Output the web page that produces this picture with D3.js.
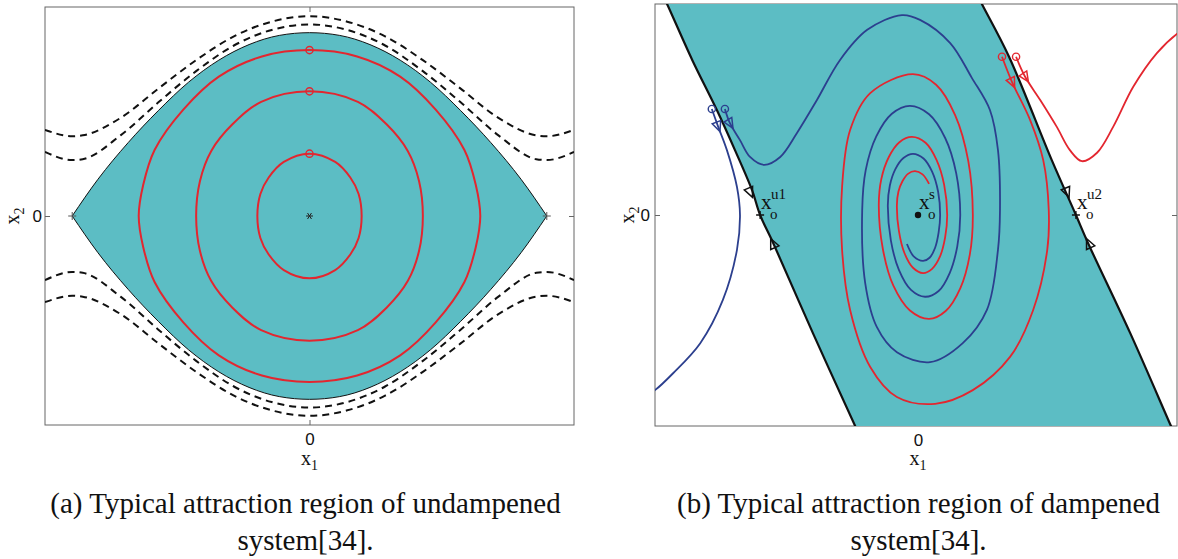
<!DOCTYPE html>
<html>
<head>
<meta charset="utf-8">
<script src="https://cdn.jsdelivr.net/npm/d3@7"></script>
<style>
  html, body { margin: 0; padding: 0; background: #fff; }
  svg { display: block; font-family: "Liberation Serif", "Times New Roman", serif; }
</style>
</head>
<body>
<div id="chart"></div>
<script>
// ---------- panel (a): undamped system (x1 in rad, x2 velocity) ----------
const sepX     = [-3.14, -2.8, -2.4, -2.0, -1.6, -1.2, -0.8, -0.4, 0, 0.4, 0.8, 1.2, 1.6, 2.0, 2.4, 2.8, 3.14];
const sepUpper = [0, 0.40, 0.80, 1.15, 1.46, 1.70, 1.87, 1.97, 2.0, 1.97, 1.87, 1.70, 1.46, 1.15, 0.80, 0.40, 0];
const sepLower = [0, -0.40, -0.80, -1.15, -1.46, -1.70, -1.87, -1.97, -2.0, -1.97, -1.87, -1.70, -1.46, -1.15, -0.80, -0.40, 0];

const dashX       = [-3.5, -3.14, -3, -2.5, -2, -1.5, -1, -0.5, 0, 0.5, 1, 1.5, 2, 2.5, 3, 3.14, 3.5];
const dashUpOuter = [0.94, 0.87, 0.88, 1.07, 1.39, 1.70, 1.96, 2.12, 2.18, 2.12, 1.96, 1.70, 1.39, 1.07, 0.88, 0.87, 0.94];
const dashUpInner = [0.70, 0.61, 0.62, 0.88, 1.24, 1.58, 1.86, 2.03, 2.09, 2.03, 1.86, 1.58, 1.24, 0.88, 0.62, 0.61, 0.70];
const dashLoInner = [-0.70, -0.61, -0.62, -0.88, -1.24, -1.58, -1.86, -2.03, -2.09, -2.03, -1.86, -1.58, -1.24, -0.88, -0.62, -0.61, -0.70];
const dashLoOuter = [-0.94, -0.87, -0.88, -1.07, -1.39, -1.70, -1.96, -2.12, -2.18, -2.12, -1.96, -1.70, -1.39, -1.07, -0.88, -0.87, -0.94];

const orbitInner = [[0,0.68],[0.34,0.59],[0.54,0.42],[0.65,0.24],[0.69,0],[0.65,-0.24],[0.54,-0.42],[0.34,-0.59],
  [0,-0.68],[-0.34,-0.59],[-0.54,-0.42],[-0.65,-0.24],[-0.69,0],[-0.65,0.24],[-0.54,0.42],[-0.34,0.59]];
const orbitMid = [[0,1.36],[0.64,1.245],[1.02,1.0],[1.30,0.71],[1.45,0.38],[1.50,0],[1.45,-0.38],[1.30,-0.71],
  [1.02,-1.0],[0.64,-1.245],[0,-1.36],[-0.64,-1.245],[-1.02,-1.0],[-1.30,-0.71],[-1.45,-0.38],[-1.50,0],
  [-1.45,0.38],[-1.30,0.71],[-1.02,1.0],[-0.64,1.245]];
const orbitOuter = [[0,1.81],[0.63,1.74],[1.20,1.52],[1.67,1.16],[2.05,0.72],[2.20,0.34],[2.26,0],[2.20,-0.34],
  [2.05,-0.72],[1.67,-1.16],[1.20,-1.52],[0.63,-1.74],[0,-1.81],[-0.63,-1.74],[-1.20,-1.52],[-1.67,-1.16],
  [-2.05,-0.72],[-2.20,-0.34],[-2.26,0],[-2.20,0.34],[-2.05,0.72],[-1.67,1.16],[-1.20,1.52],[-0.63,1.74]];
const orbitStarts = [[0,0.68],[0,1.36],[0,1.81]];
const saddlesA = [[-3.14,0],[3.14,0]];

// ---------- panel (b): dampened system ----------
const bndLeft  = [[-5.14,4.30],[-4.99,4.00],[-4.49,2.94],[-4.00,1.99],[-3.64,1.23],[-3.30,0.47],[-3.14,0],
  [-2.88,-0.53],[-2.09,-2.24],[-1.25,-4.00],[-1.11,-4.30]];
const bndRight = [[1.11,4.30],[1.27,4.00],[1.81,3.00],[2.66,1.04],[3.14,0],[3.38,-0.53],[4.22,-2.24],
  [5.03,-4.00],[5.17,-4.30]];

const redIn = [[1.67,3.00],[1.87,2.52],[2.23,1.80],[2.49,1.04],[2.60,0.09],[2.57,-0.66],[2.29,-1.80],[1.83,-2.69],
  [1.09,-3.32],[0.34,-3.58],[-0.42,-3.45],[-0.95,-2.88],[-1.35,-1.80],[-1.51,-0.66],[-1.51,0.53],[-1.35,1.61],
  [-0.95,2.31],[-0.10,2.67],[0.36,2.47],[0.74,1.89],[1.00,1.02],[1.09,0],[1.03,-0.75],[0.84,-1.39],
  [0.55,-1.82],[0.22,-1.97],[-0.16,-1.81],[-0.49,-1.34],[-0.70,-0.64],[-0.78,0.19],[-0.73,0.68],[-0.58,1.10],
  [-0.37,1.38],[-0.12,1.48],[0.15,1.37],[0.37,1.04],[0.52,0.57],[0.58,0],[0.54,-0.42],[0.44,-0.78],
  [0.28,-1.02],[0.10,-1.10],[-0.10,-1.00],[-0.27,-0.72],[-0.38,-0.30],[-0.42,0.19],[-0.39,0.44],[-0.31,0.64],
  [-0.20,0.78],[-0.06,0.83],[0.09,0.77],[0.22,0.59]];
const blueIn = [[-3.84,2.01],[-3.74,1.74],[-3.54,1.42],[-3.34,1.10],[-3.06,0.95],[-2.74,1.10],[-2.41,1.55],
  [-2.01,2.18],[-1.55,2.94],[-1.01,3.51],[-0.32,3.79],[0.04,3.70],[0.64,3.26],[1.07,2.60],[1.43,1.99],
  [1.59,1.23],[1.63,0.09],[1.59,-0.66],[1.37,-1.80],[0.89,-2.43],[0.24,-2.79],[-0.42,-2.60],[-0.82,-2.12],
  [-1.05,-1.29],[-1.11,0.09],[-1.04,0.85],[-0.83,1.49],[-0.52,1.92],[-0.16,2.07],[0.22,1.91],[0.54,1.46],
  [0.76,0.79],[0.84,0],[0.78,-0.60],[0.63,-1.10],[0.41,-1.44],[0.14,-1.55],[-0.14,-1.42],[-0.38,-1.04],
  [-0.54,-0.48],[-0.60,0.19],[-0.56,0.56],[-0.45,0.87],[-0.29,1.08],[-0.10,1.16],[0.11,1.07],[0.28,0.82],
  [0.40,0.44],[0.44,0],[0.41,-0.33],[0.34,-0.62],[0.23,-0.81],[0.10,-0.87],[-0.08,-0.79],[-0.22,-0.55]];
const redOut = [[1.95,3.00],[2.13,2.62],[2.43,2.18],[2.76,1.67],[3.02,1.23],[3.26,1.02],[3.56,1.18],
  [3.88,1.67],[4.28,2.43],[4.75,3.07],[5.17,3.45],[5.41,3.58]];
const blueOut = [[-4.10,2.01],[-3.98,1.69],[-3.80,1.23],[-3.60,0.53],[-3.54,0],[-3.60,-0.66],[-3.88,-1.61],
  [-4.33,-2.43],[-4.87,-3.00],[-5.23,-3.32],[-5.43,-3.43]];
const bndArrows = [[-3.34,0.44],[-2.88,-0.55],[2.96,0.44],[3.40,-0.55]];
const saddlesB = [[-3.14,0],[3.14,0]];
const stableB = [0,0];
const eqLabels = [{p:[-3.14,0], sup:"u1"}, {p:[0,0], sup:"s"}, {p:[3.14,0], sup:"u2"}];

const captionA = ["(a) Typical attraction region of undampened", "system[34]."];
const captionB = ["(b) Typical attraction region of dampened", "system[34]."];

// ---------- drawing ----------
const W = 1178, H = 559;
const teal = "#5cbdc4", red = "#e3262f", blue = "#2c3f8e", axisCol = "#666";

const svg = d3.select("#chart").append("svg").attr("width", W).attr("height", H);
svg.append("rect").attr("width", W).attr("height", H).attr("fill", "#fff");

function drawAxes(g, x, y, box, pads) {
  const mk = (ax) => ax.tickValues([0]).tickSizeInner(-5).tickSizeOuter(0);
  const parts = [
    [d3.axisBottom, x, `translate(0,${box.y1})`, d3.format("d"), pads.bottom],
    [d3.axisTop, x, `translate(0,${box.y0})`, () => "", 3],
    [d3.axisLeft, y, `translate(${box.x0},0)`, d3.format("d"), pads.left],
    [d3.axisRight, y, `translate(${box.x1},0)`, () => "", 3]
  ];
  parts.forEach(([fn, sc, tr, fmt, pad]) => {
    const a = g.append("g").attr("transform", tr)
      .call(mk(fn(sc)).tickFormat(fmt).tickPadding(pad));
    a.select(".domain").remove();
    a.selectAll("line").attr("stroke", axisCol);
    a.selectAll("text").attr("font-family", null).attr("font-size", 17).attr("fill", "#111");
  });
  g.append("rect").attr("x", box.x0).attr("y", box.y0)
    .attr("width", box.x1 - box.x0).attr("height", box.y1 - box.y0)
    .attr("fill", "none").attr("stroke", axisCol).attr("stroke-width", 1);
}

function axisLabel(g, x, y, sub, rotate) {
  const t = g.append("text").attr("text-anchor", "middle").attr("font-size", 20).attr("fill", "#111")
    .attr("transform", `translate(${x},${y})` + (rotate ? " rotate(-90)" : ""));
  t.append("tspan").text("x");
  t.append("tspan").attr("font-size", 14).attr("dy", 5).text(sub);
}

function triangle(g, px, py, ang, color) {
  g.append("path").attr("d", "M6,0L-4,-4.5L-4,4.5Z")
    .attr("transform", `translate(${px},${py}) rotate(${ang * 180 / Math.PI})`)
    .attr("fill", "none").attr("stroke", color).attr("stroke-width", 1.5);
}

// ----- panel (a) -----
const boxA = {x0: 45, x1: 574, y0: 7, y1: 425};
const xA = d3.scaleLinear().domain([-3.5, 3.5]).range([boxA.x0, boxA.x1]);
const yA = d3.scaleLinear().domain([-2.28, 2.28]).range([boxA.y1, boxA.y0]);
const gA = svg.append("g");
drawAxes(gA, xA, yA, boxA, {bottom: 8, left: 3});

gA.append("clipPath").attr("id", "clipA").append("rect")
  .attr("x", boxA.x0).attr("y", boxA.y0).attr("width", boxA.x1 - boxA.x0).attr("height", boxA.y1 - boxA.y0);
const pA = gA.append("g").attr("clip-path", "url(#clipA)");

const sepArea = d3.area().curve(d3.curveMonotoneX)
  .x((d, i) => xA(sepX[i])).y0((d, i) => yA(sepLower[i])).y1((d, i) => yA(sepUpper[i]));
pA.append("path").attr("d", sepArea(sepX)).attr("fill", teal).attr("stroke", "#111").attr("stroke-width", 1);

const dashLine = d3.line().curve(d3.curveMonotoneX).x((d, i) => xA(dashX[i])).y(d => yA(d));
[dashUpOuter, dashUpInner, dashLoInner, dashLoOuter].forEach(s => {
  pA.append("path").attr("d", dashLine(s)).attr("fill", "none").attr("stroke", "#111")
    .attr("stroke-width", 2).attr("stroke-dasharray", "7,5");
});

const loop = d3.line().curve(d3.curveCatmullRomClosed.alpha(0.5)).x(d => xA(d[0])).y(d => yA(d[1]));
[orbitInner, orbitMid, orbitOuter].forEach(o => {
  pA.append("path").attr("d", loop(o)).attr("fill", "none").attr("stroke", red).attr("stroke-width", 2);
});
pA.selectAll("circle.start").data(orbitStarts).join("circle")
  .attr("cx", d => xA(d[0])).attr("cy", d => yA(d[1])).attr("r", 3.6)
  .attr("fill", "none").attr("stroke", red).attr("stroke-width", 1.4);

saddlesA.forEach(d => {
  const cx = xA(d[0]), cy = yA(d[1]);
  pA.append("path").attr("d", `M${cx - 4},${cy}H${cx + 4}M${cx},${cy - 4}V${cy + 4}`)
    .attr("stroke", "#555").attr("stroke-width", 1);
});
{
  const cx = xA(0), cy = yA(0);
  pA.append("path").attr("d", `M${cx - 3.5},${cy}H${cx + 3.5}M${cx - 2},${cy - 3}L${cx + 2},${cy + 3}M${cx - 2},${cy + 3}L${cx + 2},${cy - 3}`)
    .attr("stroke", "#222").attr("stroke-width", 1);
}
axisLabel(gA, xA(0), 465, "1", false);
axisLabel(gA, 19, yA(0), "2", true);

// ----- panel (b) -----
const boxB = {x0: 655, x1: 1177, y0: 4, y1: 426};
const xB = d3.scaleLinear().domain([-5.23, 5.15]).range([boxB.x0, boxB.x1]);
const yB = d3.scaleLinear().domain([-4, 4]).range([boxB.y1, boxB.y0]);
const gB = svg.append("g");
drawAxes(gB, xB, yB, boxB, {bottom: 8, left: 5});

gB.append("clipPath").attr("id", "clipB").append("rect")
  .attr("x", boxB.x0).attr("y", boxB.y0).attr("width", boxB.x1 - boxB.x0).attr("height", boxB.y1 - boxB.y0);
const pB = gB.append("g").attr("clip-path", "url(#clipB)");

const lineB = d3.line().curve(d3.curveCatmullRom.alpha(0.5)).x(d => xB(d[0])).y(d => yB(d[1]));
const bandPath = lineB(bndLeft) + lineB(bndRight.slice().reverse()).replace(/^M/, "L") + "Z";
pB.append("path").attr("d", bandPath).attr("fill", teal);
[bndLeft, bndRight].forEach(b => {
  pB.append("path").attr("d", lineB(b)).attr("fill", "none").attr("stroke", "#111").attr("stroke-width", 2.2);
});

[[redIn, red], [blueIn, blue], [redOut, red], [blueOut, blue]].forEach(([tr, col]) => {
  pB.append("path").attr("d", lineB(tr)).attr("fill", "none").attr("stroke", col).attr("stroke-width", 1.8);
  pB.append("circle").attr("cx", xB(tr[0][0])).attr("cy", yB(tr[0][1])).attr("r", 3.6)
    .attr("fill", "none").attr("stroke", col).attr("stroke-width", 1.4);
  const a = tr[1], b = tr[2];
  const ang = Math.atan2(yB(b[1]) - yB(a[1]), xB(b[0]) - xB(a[0]));
  triangle(pB, xB(a[0]), yB(a[1]), ang, col);
});

// arrows on the boundary point along the flow, towards the saddle
bndArrows.forEach(d => {
  const s = d[0] < 0 ? saddlesB[0] : saddlesB[1];
  const ang = Math.atan2(yB(s[1]) - yB(d[1]), xB(s[0]) - xB(d[0]));
  triangle(pB, xB(d[0]), yB(d[1]), ang, "#111");
});

saddlesB.forEach(d => {
  const cx = xB(d[0]), cy = yB(d[1]);
  pB.append("path").attr("d", `M${cx - 4},${cy}H${cx + 4}M${cx},${cy - 4}V${cy + 4}`)
    .attr("stroke", "#111").attr("stroke-width", 1.3);
});
pB.append("circle").attr("cx", xB(stableB[0])).attr("cy", yB(stableB[1])).attr("r", 3.2).attr("fill", "#111");

eqLabels.forEach(l => {
  const cx = xB(l.p[0]), cy = yB(l.p[1]);
  gB.append("text").attr("x", cx + 1).attr("y", cy - 6).attr("font-size", 21).attr("fill", "#111").text("x");
  gB.append("text").attr("x", cx + 11).attr("y", cy - 16).attr("font-size", 15).attr("fill", "#111").text(l.sup);
  gB.append("text").attr("x", cx + 10).attr("y", cy + 4).attr("font-size", 15).attr("fill", "#111").text("o");
});
axisLabel(gB, xB(0), 465, "1", false);
axisLabel(gB, 634, yB(0), "2", true);

// ----- captions -----
[[captionA, 305.5], [captionB, 918.5]].forEach(([lines, cx]) => {
  lines.forEach((s, i) => {
    svg.append("text").attr("x", cx).attr("y", 513 + i * 37).attr("text-anchor", "middle")
      .attr("font-size", 29).attr("fill", "#111").text(s);
  });
});
</script>
</body>
</html>
